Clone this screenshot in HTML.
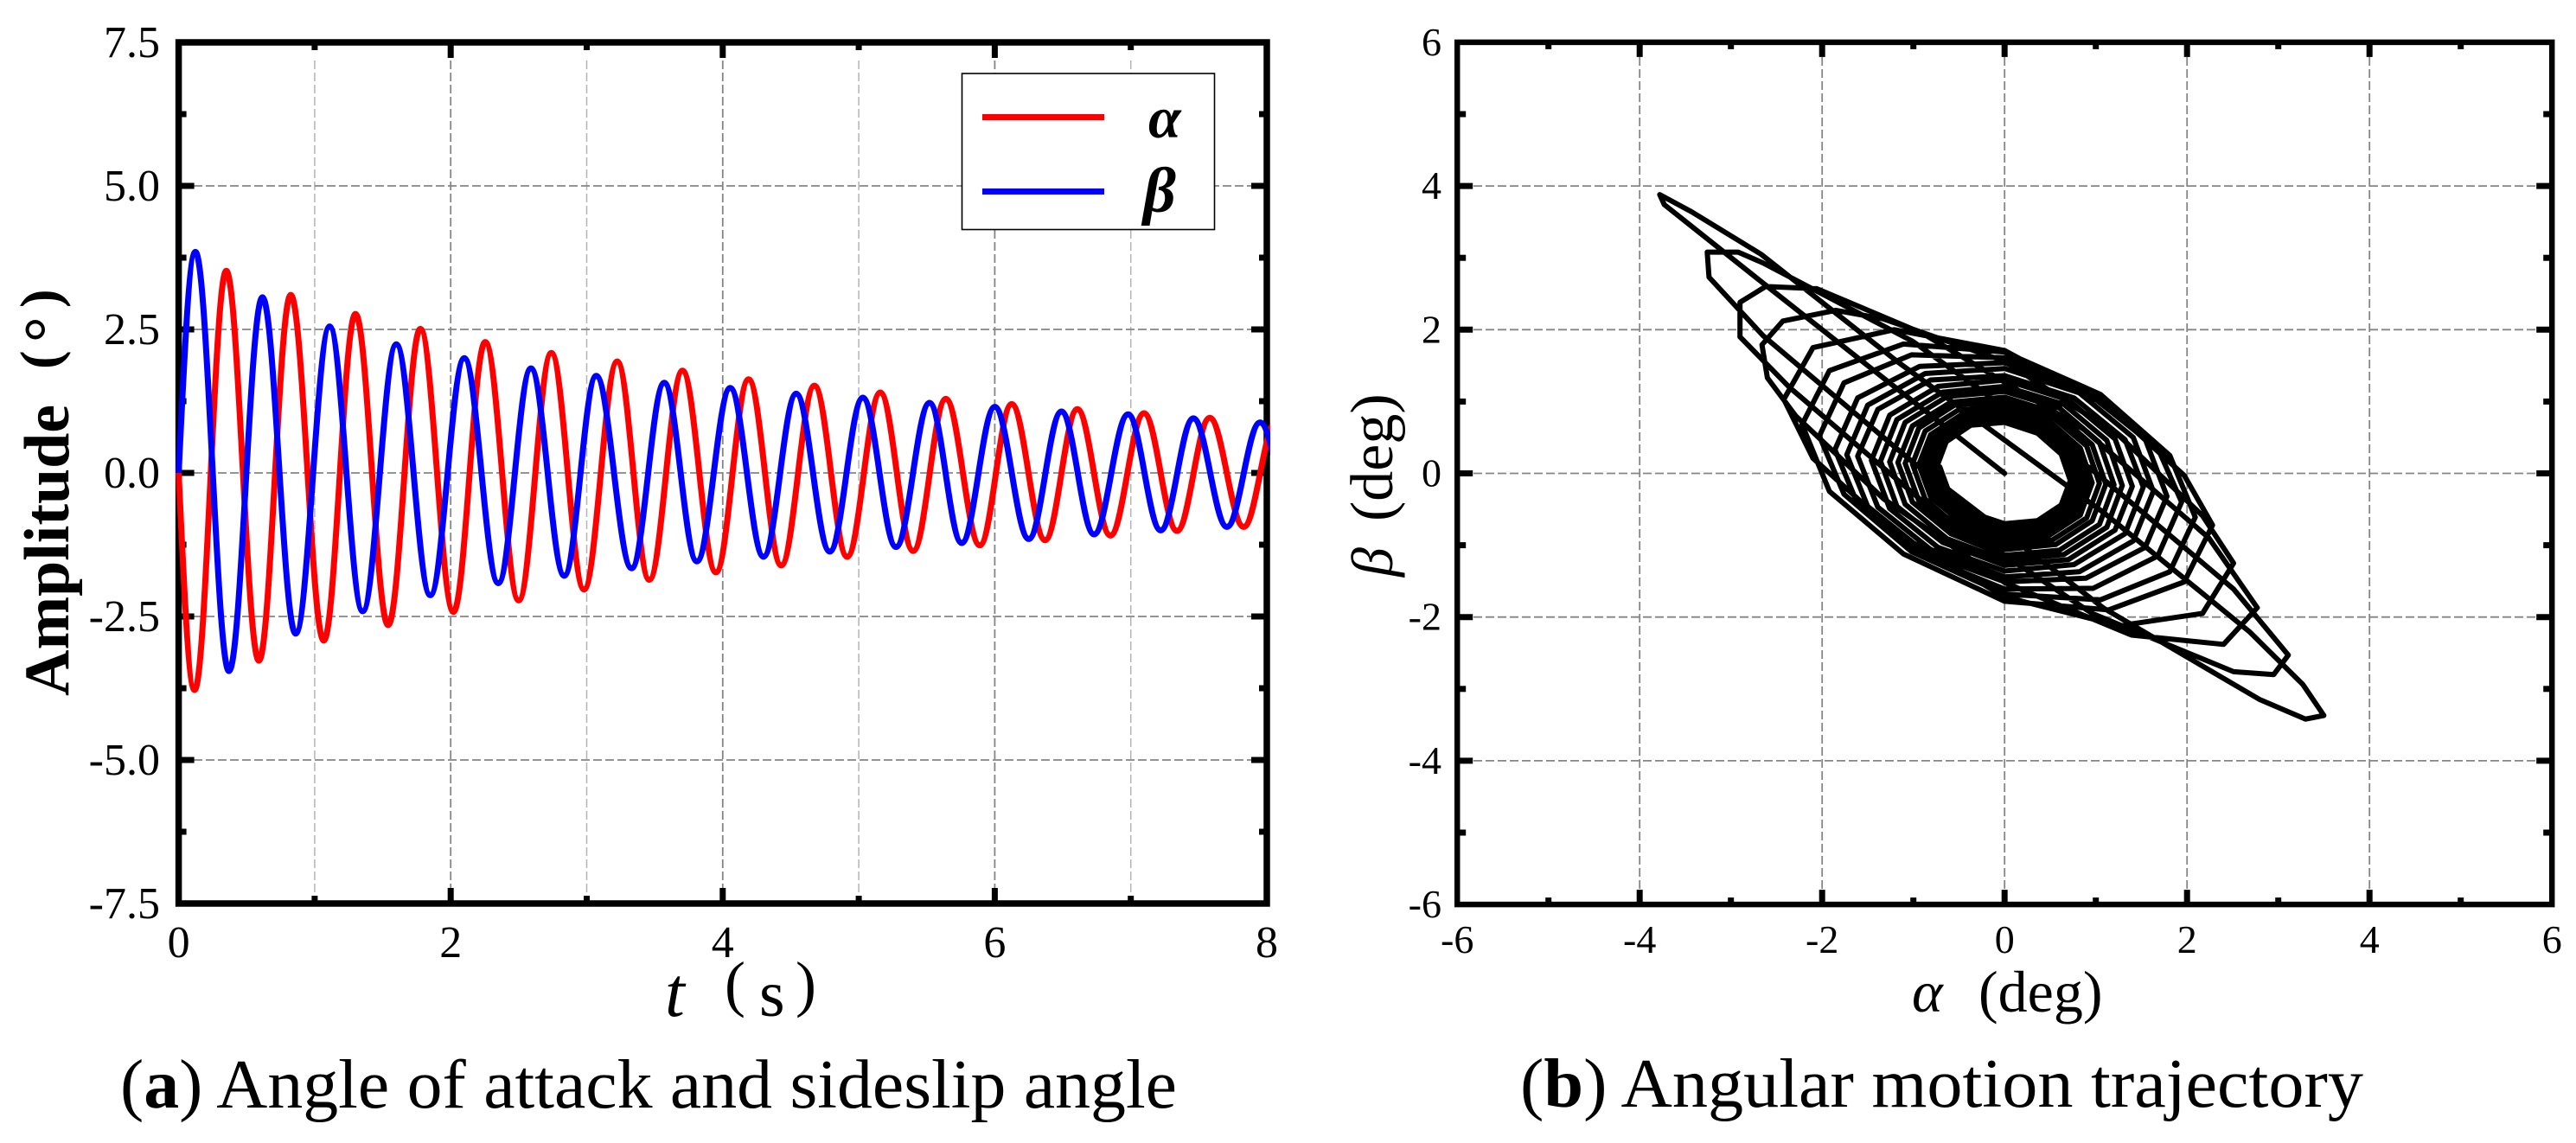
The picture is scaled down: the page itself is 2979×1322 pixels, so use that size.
<!DOCTYPE html>
<html lang="en">
<head>
<meta charset="utf-8">
<title>Angle of attack, sideslip angle and angular motion trajectory</title>
<style>
html,body{margin:0;padding:0;background:#fff;}
svg{display:block;}
text{font-family:"Liberation Serif","Noto Serif CJK SC",serif;fill:#000;}
.tick{font-size:52px;}
.tickb{font-size:46px;}
</style>
</head>
<body>
<svg id="figure" xmlns="http://www.w3.org/2000/svg" width="2979" height="1322" viewBox="0 0 2979 1322">
  <defs>
    <clipPath id="clip-a"><rect x="200" y="45" width="1269" height="1005"/></clipPath>
  </defs>
  <rect x="0" y="0" width="2979" height="1322" fill="#fff"/>
  <g id="panel-a">
    <g id="a-grid"></g>
    <g id="a-frame"></g>
    <g id="a-labels"></g>
    <g id="a-series" clip-path="url(#clip-a)"></g>
    <g>
      <rect x="1112.5" y="85" width="292" height="180.5" fill="#fff" stroke="#000" stroke-width="1.6"/>
      <line x1="1136" y1="135.5" x2="1277" y2="135.5" stroke="#ff0000" stroke-width="7"/>
      <line x1="1136" y1="221.5" x2="1277" y2="221.5" stroke="#0000ff" stroke-width="7"/>
      <text x="1328" y="159" font-size="68" font-style="italic" font-weight="bold">α</text>
      <text x="1322" y="245" font-size="74" font-style="italic" font-weight="bold">β</text>
    </g>
    <text transform="translate(79 805) rotate(-90)" font-size="74" font-weight="bold">Amplitude</text>
    <text transform="translate(68 427) rotate(-90)" font-size="65" font-weight="bold">(</text>
    <text transform="translate(79 396) rotate(-90)" font-size="74" font-weight="bold">°</text>
    <text transform="translate(68 356) rotate(-90)" font-size="65" font-weight="bold">)</text>
    <text x="769" y="1175" font-size="82" font-style="italic">t</text>
    <text x="838" y="1162" font-size="72">(</text>
    <text x="878" y="1175" font-size="76">s</text>
    <text x="920" y="1162" font-size="72">)</text>
    <text x="139" y="1281" font-size="80" textLength="1222" lengthAdjust="spacingAndGlyphs">(<tspan font-weight="bold">a</tspan>) Angle of attack and sideslip angle</text>
  </g>
  <g id="panel-b">
    <g id="b-grid"></g>
    <g id="b-series"></g>
    <g id="b-frame"></g>
    <g id="b-labels"></g>
    <text x="2211" y="1170" font-size="68" font-style="italic">α</text>
    <text x="2288" y="1170" font-size="68">(deg)</text>
    <text transform="translate(1610 667) rotate(-90)" font-size="68" font-style="italic">β</text>
    <text transform="translate(1610 603) rotate(-90)" font-size="70">(deg)</text>
    <text x="1758" y="1280" font-size="80" textLength="975" lengthAdjust="spacingAndGlyphs">(<tspan font-weight="bold">b</tspan>) Angular motion trajectory</text>
  </g>
</svg>
<script>
// ---- Panel (a): extrema ----
const alphaTimes = [0,.117,.35,.59,.824,1.067,1.30,1.54,1.777,2.02,2.254,2.50,2.74,2.98,3.224,3.46,3.704,3.95,4.19,4.43,4.674,4.915,5.158,5.40,5.64,5.89,6.124,6.37,6.607,6.85,7.097,7.34,7.58,7.83,8.07];
const alphaValues = [0,-3.78,3.52,-3.27,3.10,-2.92,2.77,-2.65,2.51,-2.42,2.28,-2.22,2.09,-2.03,1.94,-1.86,1.78,-1.73,1.63,-1.61,1.52,-1.46,1.40,-1.36,1.29,-1.26,1.20,-1.17,1.11,-1.09,1.04,-1.01,.96,-.94,.90];
const betaTimes = [0,.123,.37,.616,.86,1.11,1.353,1.60,1.85,2.10,2.35,2.59,2.835,3.07,3.33,3.57,3.81,4.055,4.30,4.54,4.787,5.03,5.274,5.52,5.757,6.0,6.25,6.49,6.73,6.98,7.22,7.46,7.707,7.95,8.2];
const betaValues = [0,3.85,-3.45,3.06,-2.80,2.55,-2.41,2.24,-2.13,2.0,-1.92,1.82,-1.79,1.69,-1.66,1.57,-1.54,1.48,-1.46,1.38,-1.37,1.31,-1.29,1.22,-1.22,1.15,-1.15,1.07,-1.07,1.02,-1.0,.95,-.94,.88,-.85];
const aXMajorTicks = [0,2,4,6,8];
const aXMinorTicks = [1,3,5,7];
const aYMajorTicks = [7.5,5.0,2.5,0.0,-2.5,-5.0,-7.5];
const aYMinorTicks = [6.25,3.75,1.25,-1.25,-3.75,-6.25];
const aYTickLabels = ['7.5','5.0','2.5','0.0','-2.5','-5.0','-7.5'];

// ---- Panel (b): trajectory vertices ----
const trajAlpha = [
0,-1.3,-2.6,-3.73,-3.78,-3.43,-2.67,-1.17,1.09,2.69,3.27,
3.5,3.3,2.8,1.09,-1.01,-2.65,
-3.24,-3.26,-2.92,-2.65,-1.01,.96,2.51,
3.11,2.95,2.51,.96,-.90,-2.36,
-2.9,-2.9,-2.62,-2.06,-.90,.86,2.24,
2.77,2.40,1.39,0,-1.33,-2.29,
-2.6,-2.66,-2.43,-1.85,-1.33,0,1.26,2.17,
2.51,2.17,1.26,0,-1.21,-2.10,
-2.42,-2.10,-1.21,0,1.14,1.97,
2.28,1.97,1.14,0,-1.11,-1.92,
-2.22,-1.92,-1.11,0,1.05,1.81,
2.09,1.81,1.05,0,-1.02,-1.76,
-2.03,-1.76,-1.02,0,.97,1.68,
1.94,1.68,.97,0,-.93,-1.61,
-1.86,-1.61,-.93,0,.89,1.54,
1.78,1.54,.89,0,-.87,-1.50,
-1.73,-1.50,-.87,0,.82,1.41,
1.63,1.41,.82,0,-.81,-1.39,
-1.61,-1.39,-.81,0,.76,1.32,
1.52,1.32,.76,0,-.73,-1.26,
-1.46,-1.26,-.73,0,.70,1.21,
1.40,1.21,.70,0,-.68,-1.18,
-1.36,-1.18,-.68,0,.65,1.12,
1.29,1.12,.65,0,-.63,-1.09,
-1.26,-1.09,-.63,0,.60,1.04,
1.20,1.04,.60,0,-.59,-1.01,
-1.17,-1.01,-.59,0,.56,.96,
1.11,.96,.56,0,-.55,-.94,
-1.09,-.94,-.55,0,.52,.90,
1.04,.90,.52,0,-.51,-.87,
-1.01,-.87,-.51,0,.48,.83,
.96,.83,.48,0,-.47,-.81,
-.94,-.81,-.47,0,.46,.80,
.92,.80,.46,0,-.45,-.78,
-.90,-.78,-.45,0,.44,.76,
.88,.76,.44,0,-.43,-.74,
-.86,-.74,-.43,0,.42,.73,
.84,.73,.42,0,-.41,-.71,
-.82,-.71,-.41,0,.40,.69,
.80,.69,.40,0,-.39,-.68,
-.78,-.68,-.39,0,.38,.66,
.76,.66,.38,0,-.37,-.64,
-.74,-.64,-.37,0,.36,.62,
.72,.62,.36,0,-.36,-.61,
-.71
];
const trajBeta = [
0,1.3,2.6,3.74,3.88,3.64,3.05,1.55,-.55,-2.21,-2.94,
-3.37,-3.42,-3.15,-1.88,.16,1.92,
2.73,3.08,3.08,2.93,1.84,.05,-1.61,
-2.53,-2.8,-2.76,-1.95,-.39,1.20,
1.9,2.38,2.6,2.57,1.95,.62,-.90,
-1.87,-2.38,-2.25,-1.52,-.35,.80,
1.33,1.79,2.12,2.27,2.15,1.56,.52,-.59,
-1.25,-1.95,-2.12,-1.72,-.81,.21,
1.03,1.75,2.0,1.71,.93,-.03,
-.72,-1.51,-1.90,-1.78,-1.12,-.25,
.68,1.43,1.80,1.69,1.10,.25,
-.61,-1.37,-1.76,-1.68,-1.09,-.29,
.52,1.26,1.65,1.61,1.11,.35,
-.40,-1.15,-1.60,-1.61,-1.13,-.43,
.33,1.05,1.49,1.54,1.14,.48,
-.32,-1.03,-1.46,-1.51,-1.10,-.46,
.26,.95,1.39,1.46,1.12,.50,
-.25,-.94,-1.37,-1.44,-1.06,-.47,
.24,.89,1.30,1.36,1.05,.47,
-.19,-.84,-1.27,-1.36,-1.03,-.49,
.18,.81,1.21,1.30,1.02,.48,
-.18,-.79,-1.20,-1.28,-.96,-.46,
.17,.75,1.13,1.21,.96,.46,
-.17,-.75,-1.13,-1.21,-.91,-.43,
.16,.71,1.07,1.14,.91,.43,
-.16,-.71,-1.07,-1.14,-.84,-.40,
.15,.66,.99,1.06,.84,.40,
-.15,-.66,-.99,-1.06,-.80,-.38,
.14,.63,.95,1.01,.79,.38,
-.14,-.62,-.93,-.99,-.75,-.36,
.13,.59,.88,.94,.74,.35,
-.13,-.58,-.87,-.93,-.69,-.33,
.12,.54,.82,.87,.69,.33,
-.12,-.54,-.81,-.86,-.67,-.32,
.12,.52,.79,.84,.65,.31,
-.12,-.51,-.77,-.82,-.64,-.30,
.11,.50,.75,.80,.63,.30,
-.11,-.49,-.74,-.79,-.61,-.29,
.11,.48,.72,.77,.61,.29,
-.11,-.47,-.71,-.76,-.59,-.28,
.10,.46,.70,.74,.58,.28,
-.10,-.46,-.69,-.73,-.57,-.27,
.10,.44,.67,.71,.56,.27,
-.10,-.44,-.66,-.70,-.55,-.26,
.09
];
const bMajorTicks = [-6,-4,-2,0,2,4,6];
const bMinorTicks = [-5,-3,-1,1,3,5];
const bTickLabels = ['-6','-4','-2','0','2','4','6'];

// ---- Axis functions ----
const xA = t => 206.6 + 157.3 * t;
const yA = v => 547 - 66.4 * v;
const xB = a => 2318.2 + 105.5 * a;
const yB = b => 547.5 - 83.1 * b;

const NS = 'http://www.w3.org/2000/svg';
function mk(parent, tag, attrs, text) {
  const el = document.createElementNS(NS, tag);
  for (const k in attrs) el.setAttribute(k, attrs[k]);
  if (text !== undefined) el.textContent = text;
  parent.appendChild(el);
  return el;
}
const $ = id => document.getElementById(id);

// ---- Panel (a) grid ----
[1,2,3,4,5,6,7].forEach(t => {
  const major = t % 2 === 0;
  const el = mk($('a-grid'), 'line', {x1:xA(t), x2:xA(t), y1:70, y2:1041,
    stroke: major ? '#858585' : '#b4b4b4', 'stroke-width': major ? 1.8 : 1.5, 'stroke-dasharray':'10 4'});
  
  
});
[5,2.5,0,-2.5,-5].forEach(v => {
  const el = mk($('a-grid'), 'line', {x1:224, x2:1448, y1:yA(v), y2:yA(v),
    stroke:'#858585', 'stroke-width':1.8, 'stroke-dasharray':'10 4'});
  
  
});

// ---- Panel (a) frame and ticks ----
{
  const L = xA(0), R = xA(8), T = yA(7.5), B = yA(-7.5);
  const frame = mk($('a-frame'), 'rect', {x:L, y:T, width:R-L, height:B-T, fill:'none', stroke:'#000', 'stroke-width':7.5});
  
  
  const tickX = (t, len) => {
    [[T, T+len],[B, B-len]].forEach(p => {
      const el = mk($('a-frame'), 'line', {x1:xA(t), x2:xA(t), y1:p[0], y2:p[1], stroke:'#000', 'stroke-width':7});
      
      
    });
  };
  const tickY = (v, len) => {
    [[L, L+len],[R, R-len]].forEach(p => {
      const el = mk($('a-frame'), 'line', {y1:yA(v), y2:yA(v), x1:p[0], x2:p[1], stroke:'#000', 'stroke-width':7});
      
      
    });
  };
  aXMajorTicks.slice(1,-1).forEach(t => tickX(t, 18));
  aXMinorTicks.forEach(t => tickX(t, 9));
  aYMajorTicks.slice(1,-1).forEach(v => tickY(v, 18));
  aYMinorTicks.forEach(v => tickY(v, 9));
  aXMajorTicks.forEach(t => {
    const el = mk($('a-labels'), 'text', {x:xA(t), y:1107, 'text-anchor':'middle', class:'tick'}, String(t));
    
    
  });
  aYMajorTicks.forEach((v, i) => {
    const el = mk($('a-labels'), 'text', {x:185, y:yA(v)+17, 'text-anchor':'end', class:'tick'}, aYTickLabels[i]);
    
    
  });
}

// ---- Panel (a) series: smooth arcs between consecutive extrema ----
function wavePath(times, values) {
  let d = 'M' + xA(times[0]).toFixed(2) + ' ' + yA(values[0]).toFixed(2);
  for (let i = 1; i < times.length; i++) {
    const x0 = xA(times[i-1]), y0 = yA(values[i-1]), x1 = xA(times[i]), y1 = yA(values[i]);
    const dx = x1 - x0, dy = y1 - y0;
    const c1y = i === 1 ? y0 + 0.55 * dy : y0;
    const c1x = i === 1 ? x0 + 0.35 * dx : x0 + 0.3642 * dx;
    d += 'C' + c1x.toFixed(2) + ' ' + c1y.toFixed(2) + ' ' + (x1 - 0.3642 * dx).toFixed(2) + ' ' + y1.toFixed(2) + ' ' + x1.toFixed(2) + ' ' + y1.toFixed(2);
  }
  return d;
}
const alphaLine = mk($('a-series'), 'path', {d:wavePath(alphaTimes, alphaValues), fill:'none', stroke:'#ff0000', 'stroke-width':7, 'stroke-linejoin':'round'});


const betaLine = mk($('a-series'), 'path', {d:wavePath(betaTimes, betaValues), fill:'none', stroke:'#0000ff', 'stroke-width':7, 'stroke-linejoin':'round'});



// ---- Panel (b) grid ----
[-4,-2,0,2,4].forEach(a => {
  const el = mk($('b-grid'), 'line', {x1:xB(a), x2:xB(a), y1:66, y2:1030, stroke:'#858585', 'stroke-width':1.8, 'stroke-dasharray':'10 4'});
  
  
  const h = mk($('b-grid'), 'line', {x1:1704, x2:2932, y1:yB(a), y2:yB(a), stroke:'#858585', 'stroke-width':1.8, 'stroke-dasharray':'10 4'});
  
  
});

// ---- Panel (b) trajectory ----
const trajPoints = trajAlpha.map((a, i) => xB(a).toFixed(1) + ',' + yB(trajBeta[i]).toFixed(1)).join(' ');
const traj = mk($('b-series'), 'polyline', {points:trajPoints, fill:'none', stroke:'#000', 'stroke-width':6, 'stroke-linejoin':'round', 'stroke-linecap':'round'});



// ---- Panel (b) frame and ticks ----
{
  const L = xB(-6), R = xB(6), T = yB(6), B = yB(-6);
  const frame = mk($('b-frame'), 'rect', {x:L, y:T, width:R-L, height:B-T, fill:'none', stroke:'#000', 'stroke-width':6.5});
  
  
  const tickX = (a, len) => {
    [[T, T+len],[B, B-len]].forEach(p => {
      const el = mk($('b-frame'), 'line', {x1:xB(a), x2:xB(a), y1:p[0], y2:p[1], stroke:'#000', 'stroke-width':7});
      
      
    });
  };
  const tickY = (b, len) => {
    [[L, L+len],[R, R-len]].forEach(p => {
      const el = mk($('b-frame'), 'line', {y1:yB(b), y2:yB(b), x1:p[0], x2:p[1], stroke:'#000', 'stroke-width':7});
      
      
    });
  };
  bMajorTicks.slice(1,-1).forEach(v => { tickX(v, 17); tickY(v, 18); });
  bMinorTicks.forEach(v => { tickX(v, 8); tickY(v, 10); });
  bMajorTicks.forEach((v, i) => {
    const xl = mk($('b-labels'), 'text', {x:xB(v), y:1102, 'text-anchor':'middle', class:'tickb'}, bTickLabels[i]);
    
    
    const yl = mk($('b-labels'), 'text', {x:1667, y:yB(v)+15, 'text-anchor':'end', class:'tickb'}, bTickLabels[i]);
    
    
  });
}
</script>
</body>
</html>
